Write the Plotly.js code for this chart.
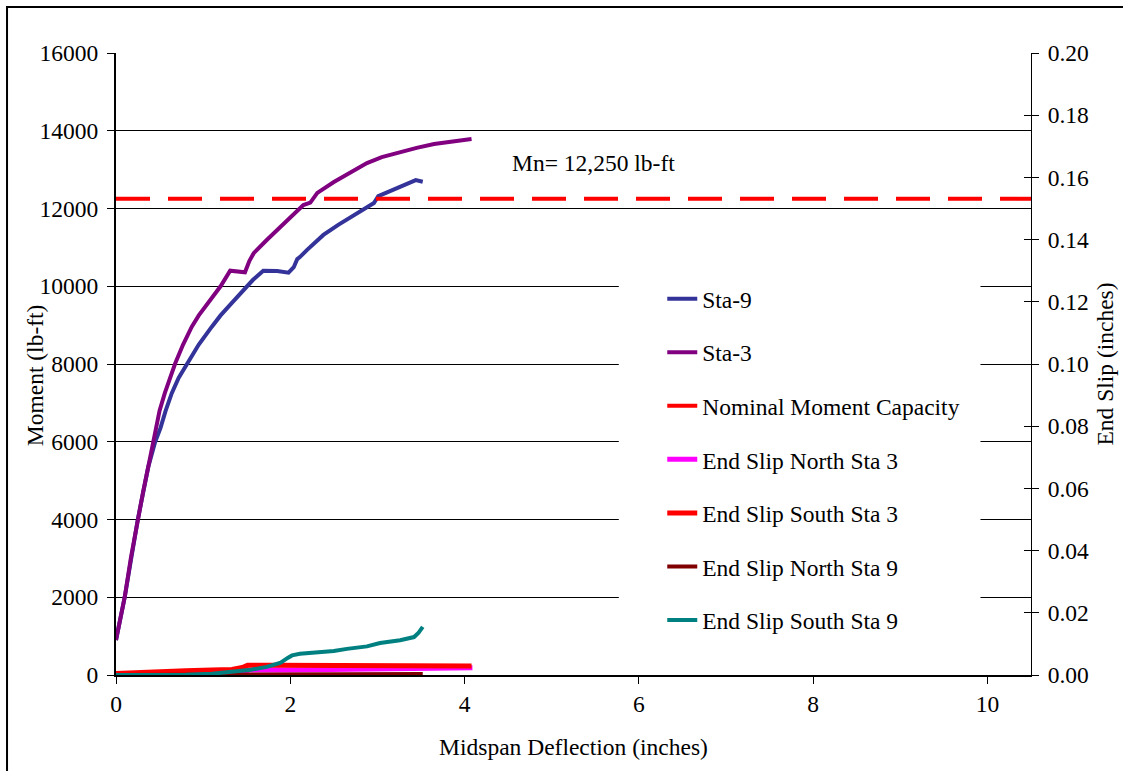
<!DOCTYPE html>
<html>
<head>
<meta charset="utf-8">
<script src="https://cdn.plot.ly/plotly-3.0.1.min.js"></script>
<style>
  html, body { margin: 0; padding: 0; background: #fff; }
  #chart { width: 1123px; height: 771px; }
</style>
</head>
<body>
<div id="chart"></div>
<script>
// Moment vs. midspan deflection (left axis)
const sta9X = [0.00, 0.10, 0.25, 0.37, 0.45, 0.51, 0.57, 0.64, 0.72, 0.82, 0.95, 1.10, 1.20, 1.33, 1.45, 1.57, 1.69, 1.85, 1.98, 2.04, 2.08, 2.11, 2.19, 2.38, 2.55, 2.69, 2.88, 2.96, 3.01, 3.14, 3.26, 3.44, 3.52];
const sta9Y = [900, 2000, 4000, 5350, 6000, 6350, 6800, 7250, 7650, 8020, 8500, 8960, 9250, 9570, 9850, 10160, 10400, 10390, 10350, 10490, 10700, 10750, 10930, 11320, 11580, 11780, 12040, 12140, 12320, 12440, 12550, 12730, 12690];

const sta3X = [0.00, 0.05, 0.10, 0.17, 0.25, 0.31, 0.37, 0.45, 0.50, 0.56, 0.62, 0.68, 0.77, 0.87, 0.95, 1.02, 1.10, 1.20, 1.31, 1.40, 1.48, 1.53, 1.58, 1.73, 1.90, 2.05, 2.15, 2.23, 2.31, 2.50, 2.70, 2.88, 3.05, 3.26, 3.45, 3.65, 3.85, 4.08];
const sta3Y = [900, 1450, 2000, 3000, 4000, 4700, 5350, 6300, 6800, 7250, 7650, 8020, 8500, 8960, 9250, 9470, 9720, 10000, 10400, 10390, 10360, 10650, 10850, 11190, 11550, 11850, 12090, 12150, 12400, 12680, 12950, 13170, 13320, 13450, 13560, 13660, 13730, 13790];

const nominalX = [0, 10.5];
const nominalY = [12250, 12250];
const nominalLabel = 'Mn= 12,250 lb-ft';

// End slip vs. midspan deflection (right axis)
const northSta3X = [0.00, 0.50, 1.00, 1.33, 1.50, 1.52, 2.00, 2.50, 3.00, 3.50, 3.70, 4.09];
const northSta3Y = [0.0001, 0.0003, 0.0005, 0.0007, 0.0012, 0.0016, 0.0016, 0.0017, 0.0017, 0.0018, 0.0021, 0.0023];

const southSta3X = [0.00, 0.20, 0.50, 0.80, 1.10, 1.33, 1.45, 1.51, 1.80, 2.20, 2.60, 3.00, 3.40, 3.70, 4.08];
const southSta3Y = [0.0005, 0.0008, 0.0011, 0.0014, 0.0016, 0.0018, 0.0024, 0.0031, 0.0031, 0.0030, 0.0030, 0.0029, 0.0031, 0.0030, 0.0029];

const northSta9X = [0.00, 1.00, 1.70, 1.73, 2.50, 3.00, 3.52];
const northSta9Y = [0.0000, 0.0000, 0.0001, 0.0003, 0.0003, 0.0003, 0.0003];

const southSta9X = [0.00, 0.50, 0.80, 1.10, 1.35, 1.55, 1.73, 1.89, 1.97, 2.02, 2.11, 2.27, 2.50, 2.65, 2.88, 3.03, 3.26, 3.42, 3.47, 3.52];
const southSta9Y = [0.0000, 0.0000, 0.0001, 0.0004, 0.0010, 0.0017, 0.0026, 0.0040, 0.0055, 0.0063, 0.0068, 0.0071, 0.0077, 0.0084, 0.0092, 0.0103, 0.0112, 0.0122, 0.0135, 0.0155];

const serif = "'Liberation Serif', 'Times New Roman', serif";
const fs = 23.5;

function line(name, x, y, color, axis, group, dash, width) {
  return {
    type: 'scatter', mode: 'lines', name: name, x: x, y: y, yaxis: axis,
    legendgroup: group,
    line: { color: color, width: width || 4, dash: dash || 'solid' },
    hoverinfo: 'skip'
  };
}

const traces = [
  line('Sta-9', sta9X, sta9Y, '#333399', 'y', 'g1'),
  line('Sta-3', sta3X, sta3Y, '#800080', 'y', 'g2'),
  line('Nominal Moment Capacity', nominalX, nominalY, '#FF0000', 'y', 'g3', '34px,18px'),
  line('End Slip North Sta 3', northSta3X, northSta3Y, '#FF00FF', 'y2', 'g4', null, 5),
  line('End Slip South Sta 3', southSta3X, southSta3Y, '#FF0000', 'y2', 'g5', null, 5),
  line('End Slip North Sta 9', northSta9X, northSta9Y, '#800000', 'y2', 'g6'),
  line('End Slip South Sta 9', southSta9X, southSta9Y, '#008080', 'y2', 'g7'),
  // carrier for the inner tick marks of the right axis
  { type: 'scatter', mode: 'lines', x: [null], y: [null], yaxis: 'y3', showlegend: false, hoverinfo: 'skip' }
];

const layout = {
  width: 1123, height: 771,
  margin: { l: 116, r: 92, t: 53, b: 96 },
  paper_bgcolor: '#fff', plot_bgcolor: '#fff',
  font: { family: serif, size: fs, color: '#000' },
  showlegend: true,
  legend: {
    x: 0.597, y: 0.64, xanchor: 'left', yanchor: 'top',
    bgcolor: 'rgba(255,255,255,0)', borderwidth: 0,
    font: { family: serif, size: fs, color: '#000' },
    traceorder: 'grouped', tracegroupgap: 20
  },
  xaxis: {
    range: [0, 10.5], dtick: 2, tick0: 0,
    showgrid: false, zeroline: false,
    showline: true, linecolor: '#000', linewidth: 2,
    ticks: 'outside', ticklen: 7, tickcolor: '#000', tickwidth: 1,
    tickfont: { family: serif, size: fs },
    title: { text: 'Midspan Deflection (inches)', font: { family: serif, size: fs }, standoff: 22 }
  },
  yaxis: {
    range: [0, 16000], dtick: 2000, tick0: 0, tickformat: 'd',
    showgrid: true, gridcolor: '#000', gridwidth: 1,
    zeroline: false,
    showline: true, linecolor: '#000', linewidth: 2,
    ticks: 'outside', ticklen: 7, tickcolor: '#000', tickwidth: 1,
    ticklabelstandoff: 4,
    tickfont: { family: serif, size: fs }
  },
  yaxis2: {
    overlaying: 'y', side: 'right',
    range: [0, 0.2], dtick: 0.02, tick0: 0, tickformat: '.2f',
    showgrid: false, zeroline: false,
    showline: true, linecolor: '#000', linewidth: 1,
    ticks: 'outside', ticklen: 7, tickcolor: '#000', tickwidth: 1,
    ticklabelstandoff: 4,
    tickfont: { family: serif, size: fs },
    title: { text: 'End Slip (inches)', font: { family: serif, size: fs }, standoff: 8 }
  },
  yaxis3: {
    overlaying: 'y', side: 'right',
    range: [0, 0.2], dtick: 0.02, tick0: 0,
    showgrid: false, zeroline: false, showline: false,
    ticks: 'inside', ticklen: 7, tickcolor: '#000', tickwidth: 1,
    showticklabels: false
  },
  annotations: [
    {
      xref: 'x', yref: 'y', x: 5.48, y: 13170,
      text: nominalLabel, showarrow: false,
      font: { family: serif, size: fs, color: '#000' }
    },
    // left axis title, placed close to the tick labels
    {
      xref: 'paper', yref: 'paper', x: -0.0885, y: 0.482,
      xanchor: 'center', yanchor: 'middle', textangle: -90,
      text: 'Moment (lb-ft)', showarrow: false,
      font: { family: serif, size: fs, color: '#000' }
    }
  ],
  shapes: [
    // clear panel behind the legend
    { type: 'rect', layer: 'between', xref: 'x', yref: 'y',
      x0: 5.77, x1: 9.92, y0: 900, y1: 10200,
      fillcolor: '#fff', line: { width: 0 } },
    // outer chart frame
    { type: 'rect', layer: 'above', xref: 'paper', yref: 'paper',
      x0: -0.1191, x1: 1.12, y0: -0.17, y1: 1.074,
      fillcolor: 'rgba(0,0,0,0)', line: { color: '#000', width: 2 } }
  ]
};

Plotly.newPlot('chart', traces, layout, { displayModeBar: false, staticPlot: true });
</script>
</body>
</html>
